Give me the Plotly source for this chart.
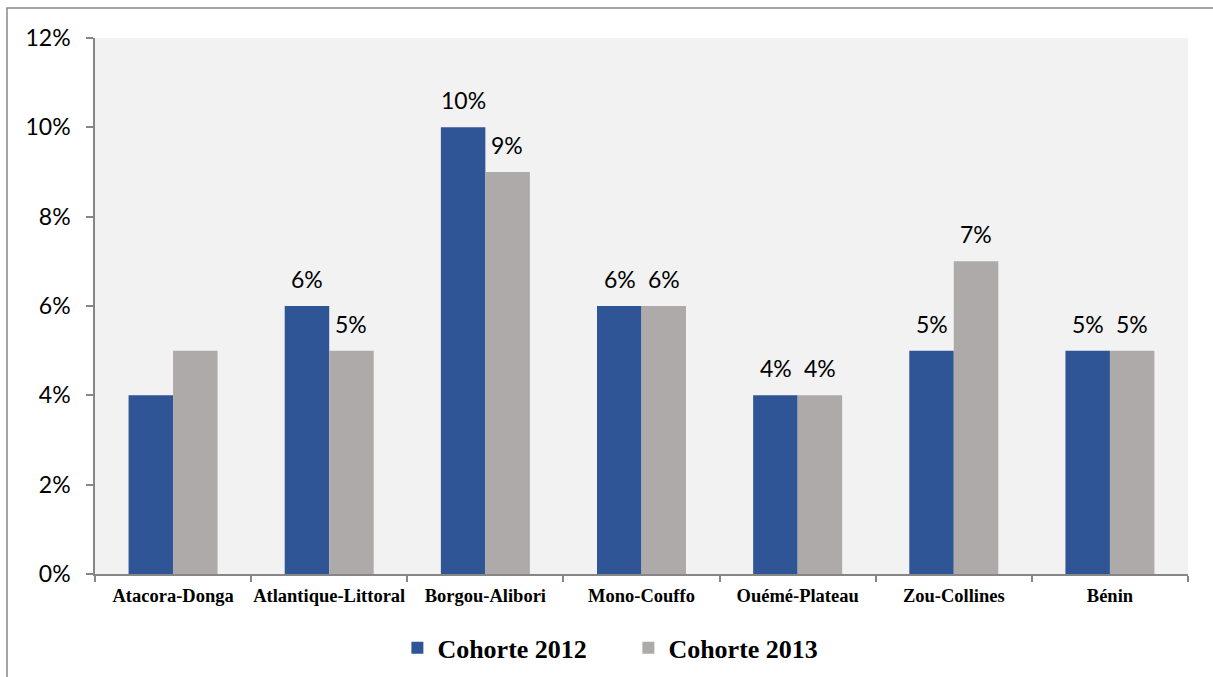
import plotly.graph_objects as go

categories = ["Atacora-Donga", "Atlantique-Littoral", "Borgou-Alibori", "Mono-Couffo",
              "Ouémé-Plateau", "Zou-Collines", "Bénin"]
cohorte_2012 = [4, 6, 10, 6, 4, 5, 5]
cohorte_2013 = [5, 5, 9, 6, 4, 7, 5]
show_label = [False, True, True, True, True, True, True]
y_ticks = [0, 2, 4, 6, 8, 10, 12]
y_tick_labels = [f"{v}%" for v in y_ticks]

BLUE = "#2F5597"
GRAY = "#AEAAAA"
AXIS = "#868686"

fig = go.Figure()
fig.add_trace(go.Bar(name="Cohorte 2012", x=categories, y=cohorte_2012,
                     marker=dict(color=BLUE, line=dict(width=0))))
fig.add_trace(go.Bar(name="Cohorte 2013", x=categories, y=cohorte_2013,
                     marker=dict(color=GRAY, line=dict(width=0))))

label_font = dict(family="Lato", size=23, color="#000000")
for cat, v1, v2, show in zip(categories, cohorte_2012, cohorte_2013, show_label):
    if not show:
        continue
    for v, dx in ((v1, -22), (v2, 22)):
        fig.add_annotation(x=cat, y=v, text=f"{v}%", showarrow=False,
                           xshift=dx, yshift=11, yanchor="bottom",
                           font=label_font)

fig.update_layout(
    width=1213, height=677,
    margin=dict(l=95, r=25, t=38, b=103, autoexpand=False),
    paper_bgcolor="#FFFFFF",
    plot_bgcolor="#F2F2F2",
    barmode="group",
    bargap=0.43,
    bargroupgap=0,
    showlegend=True,
    legend=dict(orientation="h", x=0.488, xanchor="center", y=-0.138, yanchor="middle",
                font=dict(family="Liberation Serif", size=26, color="#000000", weight="bold"),
                itemsizing="constant", traceorder="normal", itemwidth=30,
                entrywidth=186, bgcolor="rgba(0,0,0,0)"),
    xaxis=dict(
        showline=True, linecolor=AXIS, linewidth=1.5,
        ticks="outside", ticklen=6, tickcolor=AXIS, tickwidth=1.5,
        tickson="boundaries", tickangle=0, automargin=False,
        ticklabelstandoff=4,
        tickfont=dict(family="Liberation Serif", size=18.5, color="#000000", weight="bold"),
        showgrid=False,
    ),
    yaxis=dict(
        range=[0, 12], tickvals=y_ticks, ticktext=y_tick_labels,
        showline=True, linecolor=AXIS, linewidth=1.5,
        ticks="outside", ticklen=7, tickcolor=AXIS, tickwidth=1.5,
        ticklabelstandoff=11, automargin=False,
        tickfont=dict(family="Lato", size=23, color="#000000"),
        showgrid=False, zeroline=False,
    ),
)

# outer chart border
fig.add_shape(type="rect", xref="paper", yref="paper",
              x0=(7 - 95) / 1093, x1=1.2, y0=-0.5, y1=1 + 30 / 536,
              line=dict(color="#888888", width=1.5), fillcolor="rgba(0,0,0,0)",
              layer="below")

fig.write_html("out.html", config={"displayModeBar": False},
               post_script="document.body.style.margin='0';")
